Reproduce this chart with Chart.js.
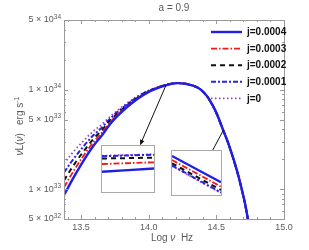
<!DOCTYPE html>
<html>
<head>
<meta charset="utf-8">
<script src="https://cdn.jsdelivr.net/npm/chart.js@4"></script>
<style>
  html, body { margin: 0; padding: 0; background: #fff; }
  #wrap { position: relative; width: 309px; height: 250px; }
  #wrap canvas { display: block; }
  .inset { position: absolute; border: 1px solid #a9a9a9; background: #fff; }
</style>
</head>
<body>
<div id="wrap">
  <canvas id="chart" width="309" height="250"></canvas>
  <div class="inset" style="left:101px;top:145px;"><canvas id="inset-a" width="52" height="46"></canvas></div>
  <div class="inset" style="left:171px;top:150px;"><canvas id="inset-b" width="49" height="44"></canvas></div>
</div>
<script>
// Log nu (Hz)
const logNu = [13.374, 13.433, 13.493, 13.589, 13.655, 13.714, 13.840, 13.958, 14.084, 14.217,
	14.328, 14.380, 14.431, 14.468, 14.505, 14.542, 14.586, 14.623, 14.660, 14.690, 14.712, 14.734, 14.749];

// nu L(nu), erg s^-1
const j0004 = [8.65e32, 1.224e33, 1.694e33, 2.69e33, 3.475e33, 4.486e33, 6.65e33, 8.79e33, 1.057e34, 1.161e34,
	1.094e34, 1.009e34, 8.59e33, 7.13e33, 5.65e33, 4.19e33, 2.95e33, 2.08e33, 1.41e33, 9.70e32, 7.18e32, 4.95e32, 3.84e32];
const j0003 = [1.040e33, 1.430e33, 1.923e33, 2.932e33, 3.701e33, 4.683e33, 6.803e33, 8.895e33, 1.062e34, 1.162e34,
	1.094e34, 1.009e34, 8.58e33, 7.12e33, 5.64e33, 4.18e33, 2.94e33, 2.07e33, 1.40e33, 9.65e32, 7.14e32, 4.92e32, 3.82e32];
const j0002 = [1.222e33, 1.640e33, 2.148e33, 3.163e33, 3.913e33, 4.867e33, 6.943e33, 8.983e33, 1.067e34, 1.163e34,
	1.094e34, 1.009e34, 8.57e33, 7.11e33, 5.63e33, 4.17e33, 2.93e33, 2.06e33, 1.40e33, 9.60e32, 7.10e32, 4.90e32, 3.80e32];
const j0001 = [1.469e33, 1.913e33, 2.438e33, 3.449e33, 4.170e33, 5.078e33, 7.109e33, 9.089e33, 1.071e34, 1.164e34,
	1.094e34, 1.009e34, 8.56e33, 7.09e33, 5.61e33, 4.16e33, 2.92e33, 2.06e33, 1.39e33, 9.56e32, 7.06e32, 4.87e32, 3.78e32];
const j0 = [1.807e33, 2.279e33, 2.812e33, 3.801e33, 4.476e33, 5.334e33, 7.288e33, 9.203e33, 1.077e34, 1.167e34,
	1.094e34, 1.009e34, 8.55e33, 7.08e33, 5.60e33, 4.14e33, 2.91e33, 2.05e33, 1.38e33, 9.50e32, 7.01e32, 4.84e32, 3.75e32];

const seriesLabels = [ 'j=0.0004', 'j=0.0003', 'j=0.0002', 'j=0.0001', 'j=0' ];

// Insets (magnified pieces, arbitrary units)
const insetX = [ 0, 1 ];
const insetA = [ [ 20.3, 23.5 ], [ 28.0, 29.7 ], [ 33.5, 34.3 ], [ 35.8, 37.3 ], [ 36.3, 37.7 ] ];
const insetB = [ [ 39.0, 12.7 ], [ 35.0, 8.3 ], [ 31.7, 5.0 ], [ 29.5, 2.5 ], [ 29.0, 2.0 ] ];

// Ticks
const xTickValues = [ 13.5, 14.0, 14.5, 15.0 ];
const xTickLabels = [ '13.5', '14.0', '14.5', '15.0' ];
const xMinorTicks = [ 13.4, 13.6, 13.7, 13.8, 13.9, 14.1, 14.2, 14.3, 14.4, 14.6, 14.7, 14.8, 14.9 ];
const yTickValues = [ 5e32, 1e33, 5e33, 1e34, 5e34 ];
const yTickMantissa = [ '5', '1', '5', '1', '5' ];
const yTickExponent = [ '32', '33', '33', '34', '34' ];
const yMinorTicks = [ 6e32, 7e32, 8e32, 9e32, 2e33, 3e33, 4e33, 6e33, 7e33, 8e33, 9e33, 2e34, 3e34, 4e34 ];

// Arrows, from curve to inset (data units)
const arrows = [
	{ from: [ 14.128, 1.107e34 ], to: [ 13.936, 2.75e33 ] },
	{ from: [ 14.552, 3.90e33 ], to: [ 14.441, 2.04e33 ] },
];

const FONT = '"Liberation Sans", Arial, sans-serif';
const GREY = '#5a5a5a';

const styles = [
	{ borderColor: '#1f1fe6', borderWidth: 2.4, borderDash: [] },
	{ borderColor: '#f01818', borderWidth: 1.8, borderDash: [ 6, 2, 1.5, 2 ] },
	{ borderColor: '#111111', borderWidth: 2, borderDash: [ 5, 4 ] },
	{ borderColor: '#2424e8', borderWidth: 2, borderDash: [ 5, 2, 2, 2 ] },
	{ borderColor: '#a040c0', borderWidth: 1.8, borderDash: [ 1.5, 2.5 ] },
];

const makeSet = ( label, xs, ys, i ) => ( {
	label: label,
	data: xs.map( ( x, k ) => ( { x: x, y: ys[ k ] } ) ),
	borderColor: styles[ i ].borderColor,
	borderWidth: styles[ i ].borderWidth,
	borderDash: styles[ i ].borderDash,
	pointRadius: 0,
	fill: false,
	cubicInterpolationMode: 'monotone',
} );

const findIndex = ( v, values ) => {
	for ( let i = 0; i < values.length; i++ ) {
		if ( Math.abs( v - values[ i ] ) <= Math.abs( values[ i ] ) * 1e-6 ) {
			return i;
		}
	}
	return -1;
};

// Draw text made of pieces in different fonts; align 'center' or 'right' at x.
const drawRich = ( ctx, parts, x, cy, align ) => {
	let w = 0;
	parts.forEach( ( p ) => {
		ctx.font = p.f;
		w += ctx.measureText( p.t ).width;
	} );
	let px = align === 'right' ? x - w : x - w / 2;
	ctx.textAlign = 'left';
	ctx.textBaseline = 'middle';
	parts.forEach( ( p ) => {
		ctx.font = p.f;
		ctx.fillText( p.t, px, cy + ( p.dy || 0 ) );
		px += ctx.measureText( p.t ).width;
	} );
};

const framePlugin = {
	id: 'frame',
	afterDraw( chart ) {
		const { ctx, chartArea: a, scales } = chart;
		ctx.save();
		ctx.strokeStyle = '#9a9a9a';
		ctx.lineWidth = 1;
		ctx.strokeRect( a.left + 0.5, a.top + 0.5, a.right - a.left, a.bottom - a.top );
		ctx.beginPath();
		const xt = ( v, len ) => {
			const px = Math.round( scales.x.getPixelForValue( v ) ) + 0.5;
			ctx.moveTo( px, a.bottom ); ctx.lineTo( px, a.bottom - len );
			ctx.moveTo( px, a.top ); ctx.lineTo( px, a.top + len );
		};
		const yt = ( v, len ) => {
			const py = Math.round( scales.y.getPixelForValue( v ) ) + 0.5;
			ctx.moveTo( a.left, py ); ctx.lineTo( a.left + len, py );
			ctx.moveTo( a.right, py ); ctx.lineTo( a.right - len, py );
		};
		xTickValues.forEach( ( v ) => xt( v, 4 ) );
		xMinorTicks.forEach( ( v ) => xt( v, 2 ) );
		yTickValues.forEach( ( v ) => yt( v, 4 ) );
		yMinorTicks.forEach( ( v ) => yt( v, 2 ) );
		ctx.stroke();

		ctx.fillStyle = GREY;
		const n = '10px ' + FONT;
		const it = 'italic 10px ' + FONT;

		// Y tick labels with superscript exponents
		yTickValues.forEach( ( v, i ) => {
			const py = scales.y.getPixelForValue( v );
			drawRich( ctx, [
				{ t: yTickMantissa[ i ] + ' × 10', f: '9px ' + FONT },
				{ t: yTickExponent[ i ], f: '6.5px ' + FONT, dy: -3 },
			], a.left - 3, py, 'right' );
		} );

		// Titles
		drawRich( ctx, [ { t: 'a = 0.9', f: n } ], ( a.left + a.right ) / 2, 8.5 );
		drawRich( ctx, [ { t: 'Log ', f: n }, { t: 'ν', f: it }, { t: '  Hz', f: n } ], 172, 238 );
		ctx.translate( 20, 126 );
		ctx.rotate( -Math.PI / 2 );
		drawRich( ctx, [
			{ t: 'ν', f: it }, { t: 'L(', f: n }, { t: 'ν', f: it }, { t: ')   erg s', f: n },
			{ t: '-1', f: '7px ' + FONT, dy: -3 },
		], 0, 0 );
		ctx.restore();

		// Legend
		ctx.save();
		chart.data.datasets.forEach( ( ds, i ) => {
			const y = a.top + 12 + i * 16.6;
			ctx.beginPath();
			ctx.strokeStyle = ds.borderColor;
			ctx.lineWidth = ds.borderWidth;
			ctx.setLineDash( ds.borderDash );
			ctx.moveTo( 211, y );
			ctx.lineTo( 242, y );
			ctx.stroke();
			ctx.setLineDash( [] );
			ctx.fillStyle = '#111';
			ctx.font = 'bold 10px ' + FONT;
			ctx.textAlign = 'left';
			ctx.textBaseline = 'middle';
			ctx.fillText( ds.label, 247, y + 0.5 );
		} );

		// Arrows
		ctx.strokeStyle = '#111';
		ctx.fillStyle = '#111';
		ctx.lineWidth = 1;
		arrows.forEach( ( ar ) => {
			const x1 = scales.x.getPixelForValue( ar.from[ 0 ] );
			const y1 = scales.y.getPixelForValue( ar.from[ 1 ] );
			const x2 = scales.x.getPixelForValue( ar.to[ 0 ] );
			const y2 = scales.y.getPixelForValue( ar.to[ 1 ] );
			const ang = Math.atan2( y2 - y1, x2 - x1 );
			ctx.beginPath();
			ctx.moveTo( x1, y1 );
			ctx.lineTo( x2 - 4 * Math.cos( ang ), y2 - 4 * Math.sin( ang ) );
			ctx.stroke();
			ctx.beginPath();
			ctx.moveTo( x2, y2 );
			ctx.lineTo( x2 - 6 * Math.cos( ang - 0.4 ), y2 - 6 * Math.sin( ang - 0.4 ) );
			ctx.lineTo( x2 - 6 * Math.cos( ang + 0.4 ), y2 - 6 * Math.sin( ang + 0.4 ) );
			ctx.closePath();
			ctx.fill();
		} );
		ctx.restore();
	},
};

const allSeries = [ j0004, j0003, j0002, j0001, j0 ];

new Chart( document.getElementById( 'chart' ), {
	type: 'line',
	data: {
		datasets: allSeries.map( ( ys, i ) => makeSet( seriesLabels[ i ], logNu, ys, i ) ),
	},
	options: {
		responsive: false,
		animation: false,
		devicePixelRatio: 1,
		layout: { padding: { top: 20, right: 25, left: 0, bottom: 0 } },
		plugins: { legend: { display: false }, tooltip: { enabled: false } },
		scales: {
			x: {
				type: 'linear',
				min: 13.374,
				max: 15.0,
				grid: { display: false, drawTicks: false },
				border: { display: false },
				afterBuildTicks: ( s ) => {
					s.ticks = xTickValues.map( ( v ) => ( { value: v } ) );
				},
				afterFit: ( s ) => {
					s.height = 31;
				},
				ticks: {
					autoSkip: false,
					maxRotation: 0,
					padding: 3,
					color: GREY,
					font: { family: FONT, size: 9 },
					callback: ( v ) => {
						const i = findIndex( v, xTickValues );
						return i < 0 ? '' : xTickLabels[ i ];
					},
				},
			},
			y: {
				type: 'logarithmic',
				min: 5e32,
				max: 5e34,
				grid: { display: false, drawTicks: false },
				border: { display: false },
				afterBuildTicks: ( s ) => {
					s.ticks = yTickValues.map( ( v ) => ( { value: v } ) );
				},
				afterFit: ( s ) => {
					s.width = 64;
				},
				ticks: {
					autoSkip: false,
					// labels drawn by the frame plugin (superscripts)
					callback: () => '',
				},
			},
		},
	},
	plugins: [ framePlugin ],
} );

// Insets
const inset = ( id, values, yMax ) => {
	new Chart( document.getElementById( id ), {
		type: 'line',
		data: {
			datasets: values.map( ( ys, i ) => makeSet( seriesLabels[ i ], insetX, ys, i ) ),
		},
		options: {
			responsive: false,
			animation: false,
			devicePixelRatio: 1,
			layout: { padding: 0 },
			plugins: { legend: { display: false }, tooltip: { enabled: false } },
			scales: {
				x: { type: 'linear', min: 0, max: 1, display: false },
				y: { type: 'linear', min: 0, max: yMax, display: false },
			},
		},
	} );
};
inset( 'inset-a', insetA, 46 );
inset( 'inset-b', insetB, 44 );
</script>
</body>
</html>
